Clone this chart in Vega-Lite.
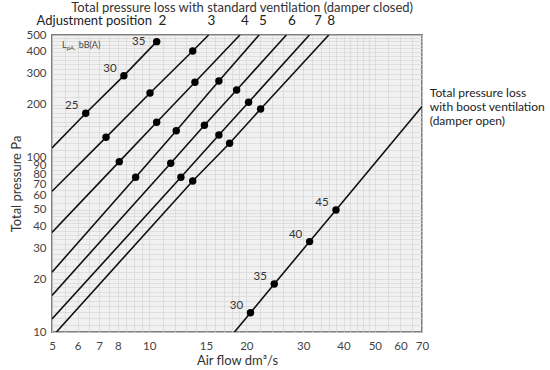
{
  "$schema": "https://vega.github.io/schema/vega-lite/v6.json",
  "width": 370,
  "height": 297,
  "autosize": {"type": "none"},
  "padding": {"left": 52, "top": 35, "right": 128, "bottom": 38},
  "config": {"view": {"stroke": "#7f7f7f", "strokeWidth": 2, "fill": "#f1f1f1"}, "font": "Lato"},
  "datasets": {
    "lines": [
      {"s": "2", "flow": 5, "p": 112.9},
      {"s": "2", "flow": 6.36, "p": 178.3, "db": 25, "label": "25"},
      {"s": "2", "flow": 8.35, "p": 292.6, "db": 30, "label": "30"},
      {"s": "2", "flow": 10.55, "p": 458, "db": 35, "label": "35"},
      {"s": "3", "flow": 5, "p": 63.8},
      {"s": "3", "flow": 7.35, "p": 129.9, "db": 25},
      {"s": "3", "flow": 10.06, "p": 233, "db": 30},
      {"s": "3", "flow": 13.64, "p": 405.1, "db": 35},
      {"s": "3", "flow": 15.28, "p": 500},
      {"s": "4", "flow": 5, "p": 37.1},
      {"s": "4", "flow": 8.08, "p": 94.3, "db": 25},
      {"s": "4", "flow": 10.55, "p": 158.4, "db": 30},
      {"s": "4", "flow": 13.86, "p": 268.3, "db": 35},
      {"s": "4", "flow": 19.1, "p": 500},
      {"s": "5", "flow": 5, "p": 22.0},
      {"s": "5", "flow": 9.08, "p": 76.7, "db": 25},
      {"s": "5", "flow": 12.13, "p": 141.8, "db": 30},
      {"s": "5", "flow": 16.44, "p": 272.9, "db": 35},
      {"s": "5", "flow": 21.9, "p": 500},
      {"s": "6", "flow": 5, "p": 16.2},
      {"s": "6", "flow": 11.66, "p": 92.3, "db": 25},
      {"s": "6", "flow": 14.83, "p": 152.4, "db": 30},
      {"s": "6", "flow": 18.66, "p": 242.4, "db": 35},
      {"s": "6", "flow": 26.6, "p": 500},
      {"s": "7", "flow": 5, "p": 11.87},
      {"s": "7", "flow": 12.54, "p": 76.7, "db": 25},
      {"s": "7", "flow": 16.44, "p": 134.0, "db": 30},
      {"s": "7", "flow": 20.32, "p": 206.1, "db": 35},
      {"s": "7", "flow": 31.35, "p": 500},
      {"s": "8", "flow": 5.16, "p": 10},
      {"s": "8", "flow": 13.64, "p": 73.1, "db": 25},
      {"s": "8", "flow": 17.75, "p": 120.1, "db": 30},
      {"s": "8", "flow": 22.14, "p": 188.7, "db": 35},
      {"s": "8", "flow": 36.0, "p": 500},
      {"s": "boost", "flow": 18.37, "p": 10},
      {"s": "boost", "flow": 20.6, "p": 12.9, "db": 30, "label": "30"},
      {"s": "boost", "flow": 24.4, "p": 18.8, "db": 35, "label": "35"},
      {"s": "boost", "flow": 31.4, "p": 32.9, "db": 40, "label": "40"},
      {"s": "boost", "flow": 37.9, "p": 49.9, "db": 45, "label": "45"},
      {"s": "boost", "flow": 70, "p": 195}
    ],
    "positions": [
      {"pos": "2", "flow": 11.0},
      {"pos": "3", "flow": 15.6},
      {"pos": "4", "flow": 19.8},
      {"pos": "5", "flow": 22.5},
      {"pos": "6", "flow": 27.7},
      {"pos": "7", "flow": 33.3},
      {"pos": "8", "flow": 36.6}
    ],
    "notes": [
      {"key": "title", "text": "Total pressure loss with standard ventilation (damper closed)"},
      {"key": "adj", "text": "Adjustment position"},
      {"key": "boost", "text": "Total pressure loss"},
      {"key": "boost2", "text": "with boost ventilation"},
      {"key": "boost3", "text": "(damper open)"},
      {"key": "L", "text": "L"},
      {"key": "pA", "text": "pA,"},
      {"key": "bB", "text": "bB(A)"}
    ]
  },
  "layer": [
    {
      "mark": {"type": "rule", "color": "#8c8c8c", "strokeWidth": 1},
      "encoding": {"x": {"datum": 10, "type": "quantitative"}}
    },
    {
      "mark": {"type": "rule", "color": "#8c8c8c", "strokeWidth": 1},
      "encoding": {"y": {"datum": 100, "type": "quantitative"}}
    },
    {
      "data": {"name": "lines"},
      "mark": {"type": "line", "color": "#111", "strokeWidth": 1.6, "clip": true},
      "encoding": {
        "x": {"field": "flow", "type": "quantitative",
          "scale": {"type": "log", "domain": [5, 70], "nice": false},
          "axis": {"title": "Air flow dm³/s",
            "values": [5,5.5,6,6.5,7,7.5,8,8.5,9,9.5,10,11,12,13,14,15,16,17,18,19,20,22,24,26,28,30,32,34,36,38,40,42,44,46,48,50,55,60,65,70],
            "labelExpr": "indexof([5,6,7,8,10,15,20,30,40,50,60,70], datum.value) >= 0 ? '' + datum.value : ''",
            "grid": true, "gridColor": "#d5d5d5", "gridWidth": 0.7, "ticks": false, "domain": false,
            "labelOverlap": false, "labelFlush": false, "labelPadding": 8, "labelFontSize": 11.5, "labelColor": "#444",
            "titleFontSize": 13, "titleFontWeight": "normal", "titleColor": "#333", "titlePadding": 3}},
        "y": {"field": "p", "type": "quantitative",
          "scale": {"type": "log", "domain": [10, 500], "nice": false},
          "axis": {"title": "Total pressure Pa",
            "values": [10,11,12,13,14,15,16,17,18,19,20,22,24,26,28,30,32,34,36,38,40,42,44,46,48,50,55,60,65,70,75,80,85,90,95,100,110,120,130,140,150,160,170,180,190,200,220,240,260,280,300,320,340,360,380,400,420,440,460,480,500],
            "labelExpr": "indexof([10,20,30,40,50,60,70,80,90,100,200,250,300,400,500], datum.value) >= 0 ? '' + datum.value : ''",
            "grid": true, "gridColor": "#d5d5d5", "gridWidth": 0.7, "ticks": false, "domain": false,
            "labelOverlap": false, "labelFlush": false, "labelPadding": 6, "labelFontSize": 11.5, "labelColor": "#444",
            "titleFontSize": 13, "titleFontWeight": "normal", "titleColor": "#333", "titlePadding": 2}},
        "detail": {"field": "s"}
      }
    },
    {
      "data": {"name": "lines"},
      "transform": [{"filter": "isValid(datum.db)"}],
      "mark": {"type": "point", "filled": true, "color": "#000", "size": 55, "opacity": 1},
      "encoding": {
        "x": {"field": "flow", "type": "quantitative"},
        "y": {"field": "p", "type": "quantitative"}
      }
    },
    {
      "data": {"name": "lines"},
      "transform": [{"filter": "isValid(datum.label) && !(datum.s == '2' && datum.db == 35)"}],
      "mark": {"type": "text", "dx": -14, "dy": -7, "fontSize": 11.5, "color": "#333"},
      "encoding": {
        "x": {"field": "flow", "type": "quantitative"},
        "y": {"field": "p", "type": "quantitative"},
        "text": {"field": "label"}
      }
    },
    {
      "data": {"name": "lines"},
      "transform": [{"filter": "datum.s == '2' && datum.db == 35"}],
      "mark": {"type": "text", "dx": -18, "dy": 0, "fontSize": 11.5, "color": "#333"},
      "encoding": {
        "x": {"field": "flow", "type": "quantitative"},
        "y": {"field": "p", "type": "quantitative"},
        "text": {"field": "label"}
      }
    },
    {
      "data": {"name": "positions"},
      "mark": {"type": "text", "fontSize": 13.5, "color": "#222", "clip": false, "baseline": "middle"},
      "encoding": {
        "x": {"field": "flow", "type": "quantitative"},
        "y": {"datum": 600, "type": "quantitative"},
        "text": {"field": "pos"}
      }
    },
    {
      "data": {"name": "notes"},
      "transform": [{"filter": "datum.key == 'title'"}],
      "mark": {"type": "text", "fontSize": 13, "color": "#333", "clip": false, "align": "center", "baseline": "middle"},
      "encoding": {
        "x": {"datum": 19.4, "type": "quantitative"},
        "y": {"datum": 714, "type": "quantitative"},
        "text": {"field": "text"}
      }
    },
    {
      "data": {"name": "notes"},
      "transform": [{"filter": "datum.key == 'adj'"}],
      "mark": {"type": "text", "fontSize": 13, "color": "#222", "clip": false, "align": "right", "baseline": "middle"},
      "encoding": {
        "x": {"datum": 10.2, "type": "quantitative"},
        "y": {"datum": 600, "type": "quantitative"},
        "text": {"field": "text"}
      }
    },
    {
      "data": {"name": "notes"},
      "transform": [{"filter": "datum.key == 'boost'"}],
      "mark": {"type": "text", "fontSize": 12, "color": "#222", "clip": false, "align": "left", "baseline": "middle", "dy": -14},
      "encoding": {
        "x": {"datum": 74, "type": "quantitative"},
        "y": {"datum": 194, "type": "quantitative"},
        "text": {"field": "text"}
      }
    },
    {
      "data": {"name": "notes"},
      "transform": [{"filter": "datum.key == 'boost2'"}],
      "mark": {"type": "text", "fontSize": 12, "color": "#222", "clip": false, "align": "left", "baseline": "middle"},
      "encoding": {
        "x": {"datum": 74, "type": "quantitative"},
        "y": {"datum": 194, "type": "quantitative"},
        "text": {"field": "text"}
      }
    },
    {
      "data": {"name": "notes"},
      "transform": [{"filter": "datum.key == 'boost3'"}],
      "mark": {"type": "text", "fontSize": 12, "color": "#222", "clip": false, "align": "left", "baseline": "middle", "dy": 14},
      "encoding": {
        "x": {"datum": 74, "type": "quantitative"},
        "y": {"datum": 194, "type": "quantitative"},
        "text": {"field": "text"}
      }
    },
    {
      "data": {"name": "notes"},
      "transform": [{"filter": "datum.key == 'L'"}],
      "mark": {"type": "text", "fontSize": 9, "color": "#444", "align": "left", "baseline": "middle"},
      "encoding": {
        "x": {"datum": 5.37, "type": "quantitative"},
        "y": {"datum": 438, "type": "quantitative"},
        "text": {"field": "text"}
      }
    },
    {
      "data": {"name": "notes"},
      "transform": [{"filter": "datum.key == 'pA'"}],
      "mark": {"type": "text", "fontSize": 6, "color": "#444", "align": "left", "baseline": "middle", "dy": 3},
      "encoding": {
        "x": {"datum": 5.55, "type": "quantitative"},
        "y": {"datum": 438, "type": "quantitative"},
        "text": {"field": "text"}
      }
    },
    {
      "data": {"name": "notes"},
      "transform": [{"filter": "datum.key == 'bB'"}],
      "mark": {"type": "text", "fontSize": 9, "color": "#444", "align": "left", "baseline": "middle"},
      "encoding": {
        "x": {"datum": 6.05, "type": "quantitative"},
        "y": {"datum": 438, "type": "quantitative"},
        "text": {"field": "text"}
      }
    }
  ]
}
